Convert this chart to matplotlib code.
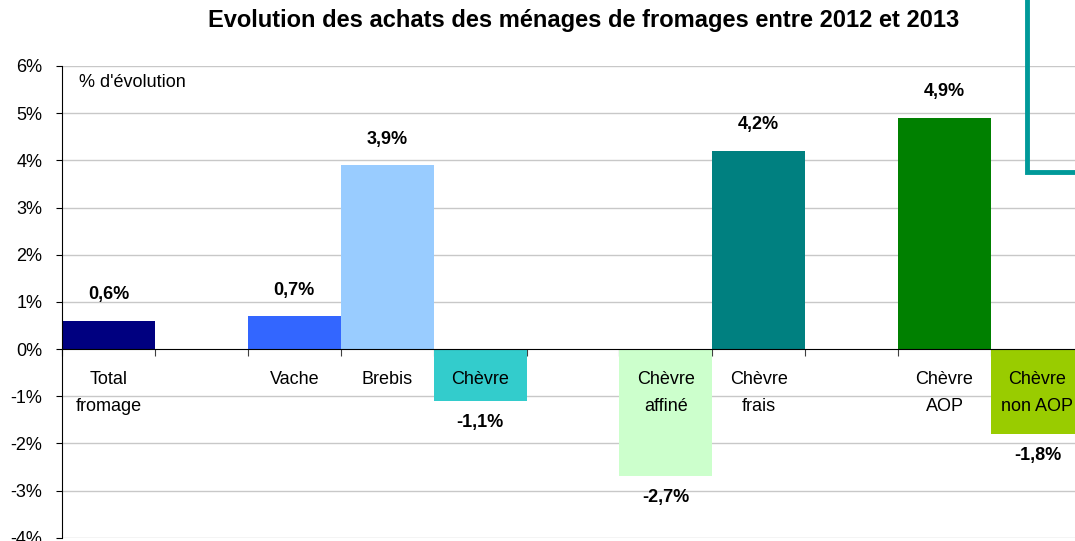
import matplotlib
matplotlib.use("Agg")
import matplotlib.pyplot as plt
from matplotlib.lines import Line2D

plt.rcParams['font.family'] = ['Liberation Sans', 'DejaVu Sans']

# Data (slot order, None = empty slot)
categories = ["Total\nfromage", None, "Vache", "Brebis", "Chèvre", None,
              "Chèvre\naffiné", "Chèvre\nfrais", None, "Chèvre\nAOP", "Chèvre\nnon AOP"]
values = [0.6, None, 0.7, 3.9, -1.1, None, -2.7, 4.2, None, 4.9, -1.8]
value_labels = ["0,6%", None, "0,7%", "3,9%", "-1,1%", None, "-2,7%", "4,2%", None, "4,9%", "-1,8%"]
colors = ["#000080", None, "#3366FF", "#99CCFF", "#33CCCC", None,
          "#CCFFCC", "#008080", None, "#008000", "#99CC00"]
yticks = [-4, -3, -2, -1, 0, 1, 2, 3, 4, 5, 6]
ytick_labels = ["-4%", "-3%", "-2%", "-1%", "0%", "1%", "2%", "3%", "4%", "5%", "6%"]
title = "Evolution des achats des ménages de fromages entre 2012 et 2013"

W, H = 1075, 541
fig = plt.figure(figsize=(W / 100, H / 100), dpi=100)
ax = fig.add_axes([62 / W, (H - 537.7) / H, 11 * 92.9 / W, (537.7 - 66) / H])
ax.set_xlim(-0.5, 10.5)
ax.set_ylim(-4, 6)

for y in yticks:
    if y != 0:
        ax.axhline(y, color="#C8C8C8", lw=1, zorder=0)

xs = [i for i, v in enumerate(values) if v is not None]
ax.bar(xs, [values[i] for i in xs], width=1.0,
       color=[colors[i] for i in xs], zorder=2)

for i in xs:
    v = values[i]
    if v >= 0:
        ax.text(i, v + 0.55, value_labels[i], ha="center", va="center",
                fontsize=13, fontweight="bold", zorder=4)
    else:
        ax.text(i, v - 0.45, value_labels[i], ha="center", va="center",
                fontsize=13, fontweight="bold", zorder=4)
    lines = categories[i].split("\n")
    for k, line in enumerate(lines):
        ax.text(i, -0.64 - 0.57 * k, line, ha="center", va="center",
                fontsize=13, zorder=4)

ax.text(0.18 - 0.5, 5.65, "% d'évolution", ha="left", va="center", fontsize=13)

# axes styling
for s in ["top", "right"]:
    ax.spines[s].set_visible(False)
ax.spines["left"].set_color("black")
ax.spines["bottom"].set_position(("data", 0))
ax.spines["bottom"].set_color("black")
ax.spines["bottom"].set_zorder(3)
ax.set_xticks([i - 0.5 for i in range(12)])
ax.set_xticklabels([])
ax.tick_params(axis="x", direction="out", length=5, color="#404040")
ax.set_yticks(yticks)
ax.set_yticklabels(ytick_labels, fontsize=13)
ax.tick_params(axis="y", direction="out", length=4, pad=10)

fig.text(584 / W, 1 - 20 / H, title, ha="center", va="center",
         fontsize=17, fontweight="bold")

# decorative teal bracket
fig.add_artist(Line2D([1027 / W, 1027 / W, 1.0], [1.0, 1 - 172 / H, 1 - 172 / H],
                      transform=fig.transFigure, color="#009999", lw=3.5,
                      solid_joinstyle="miter"))

fig.savefig("out.png", dpi=100)
